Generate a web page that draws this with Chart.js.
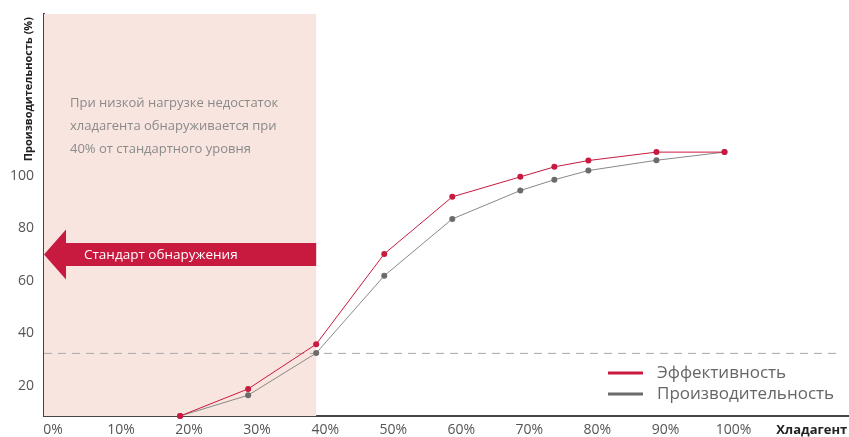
<!DOCTYPE html>
<html>
<head>
<meta charset="utf-8">
<script src="https://cdn.jsdelivr.net/npm/chart.js@4/dist/chart.umd.min.js"></script>
<style>
  html, body { margin: 0; padding: 0; background: #fff; }
  #wrap { width: 849px; height: 437px; }
</style>
</head>
<body>
<div id="wrap"><canvas id="chart"></canvas></div>
<script>
// данные
const refrigerant = [20, 30, 40, 50, 60, 70, 75, 80, 90, 100];           // Хладагент, %
const efficiency  = [8.6, 18.9, 35.9, 70.2, 91.9, 99.5, 103.3, 105.7, 108.9, 108.9];
const capacity    = [8.6, 16.5, 32.5, 61.9, 83.5, 94.3, 98.4, 101.9, 105.8, 108.9];
const xTicks = [0, 10, 20, 30, 40, 50, 60, 70, 80, 90, 100];
const xTitleAt = 111.5;
const yTicks = [20, 40, 60, 80, 100];
const detectionLevel = 32.4;   // пунктир
const lowLoadLimit = 40;       // розовая зона до 40%
const arrowLevel = 70;
const seriesNames = ['Эффективность', 'Производительность'];
const noteLines = [
  'При низкой нагрузке недостаток',
  'хладагента обнаруживается при',
  '40% от стандартного уровня'
];
const arrowText = 'Стандарт обнаружения';
const xTitle = 'Хладагент';
const yTitle = 'Производительность (%)';

const RED = '#c8193f';
const GREY = '#6b6b6b';
const FONT = '"Open Sans", "Noto Sans", sans-serif';

const toPoints = (ys) => refrigerant.map((x, i) => ({ x, y: ys[i] }));
const noPadding = (s) => { s.paddingLeft = 0; s.paddingRight = 0; s.paddingTop = 0; s.paddingBottom = 0; };

// розовая зона, стрелка и подпись
const backdrop = {
  id: 'backdrop',
  beforeDatasetsDraw(chart) {
    const { ctx, chartArea: a, scales: { x, y } } = chart;
    const x0 = x.getPixelForValue(0);
    const x1 = x.getPixelForValue(lowLoadLimit);
    ctx.save();
    ctx.fillStyle = '#f9e5e0';
    ctx.fillRect(x0, a.top, x1 - x0, a.bottom - a.top);

    // текст
    ctx.fillStyle = '#8a8a8a';
    ctx.font = '13px ' + FONT;
    ctx.textBaseline = 'middle';
    noteLines.forEach((t, i) => ctx.fillText(t, x0 + 26, 103 + i * 23));

    // стрелка
    const yc = y.getPixelForValue(arrowLevel);
    ctx.fillStyle = RED;
    ctx.beginPath();
    ctx.moveTo(x0, yc);
    ctx.lineTo(x0 + 22, yc - 25);
    ctx.lineTo(x0 + 22, yc - 11.5);
    ctx.lineTo(x1, yc - 11.5);
    ctx.lineTo(x1, yc + 11.5);
    ctx.lineTo(x0 + 22, yc + 11.5);
    ctx.lineTo(x0 + 22, yc + 25);
    ctx.closePath();
    ctx.fill();
    ctx.fillStyle = '#fff';
    ctx.font = '13.5px ' + FONT;
    ctx.fillText(arrowText, x0 + 40, yc + 1);
    ctx.restore();
  }
};

// заголовок оси Y и легенда
const overlay = {
  id: 'overlay',
  afterDraw(chart) {
    const { ctx, chartArea: a } = chart;
    ctx.save();
    ctx.fillStyle = '#222';
    ctx.font = 'bold 11px ' + FONT;
    ctx.textBaseline = 'middle';
    ctx.textAlign = 'right';
    ctx.translate(29, a.top + 3);
    ctx.rotate(-Math.PI / 2);
    ctx.fillText(yTitle, 0, 0);
    ctx.restore();

    ctx.save();
    const colors = [RED, GREY];
    ctx.font = '17px ' + FONT;
    ctx.textBaseline = 'middle';
    seriesNames.forEach((name, i) => {
      const yy = 373 + i * 21;
      ctx.strokeStyle = colors[i];
      ctx.lineWidth = 3;
      ctx.beginPath();
      ctx.moveTo(608, yy);
      ctx.lineTo(643, yy);
      ctx.stroke();
      ctx.fillStyle = '#666';
      ctx.fillText(name, 657, yy);
    });
    ctx.restore();
  }
};

new Chart(document.getElementById('chart'), {
  type: 'line',
  data: {
    datasets: [
      {
        label: seriesNames[0],
        data: toPoints(efficiency),
        borderColor: RED,
        backgroundColor: RED,
        borderWidth: 1,
        pointRadius: 3,
        pointBorderWidth: 0,
        pointBackgroundColor: RED,
        clip: false
      },
      {
        label: seriesNames[1],
        data: toPoints(capacity),
        borderColor: '#888',
        backgroundColor: GREY,
        borderWidth: 1,
        pointRadius: 3,
        pointBorderWidth: 0,
        pointBackgroundColor: GREY,
        clip: false
      },
      {
        label: 'level',
        data: [{ x: 0, y: detectionLevel }, { x: 116.5, y: detectionLevel }],
        borderColor: '#a8a8a8',
        borderWidth: 1,
        borderDash: [8, 6],
        pointRadius: 0,
        order: 5
      }
    ]
  },
  options: {
    responsive: true,
    maintainAspectRatio: false,
    animation: false,
    layout: { autoPadding: false, padding: { top: 14, right: 0, left: 0, bottom: 0 } },
    plugins: {
      legend: { display: false },
      tooltip: { enabled: false }
    },
    scales: {
      x: {
        type: 'linear',
        min: 0,
        max: 118.3,
        afterBuildTicks: (s) => { s.ticks = xTicks.concat([xTitleAt]).map(v => ({ value: v })); },
        afterFit: (s) => { s.height = 21; noPadding(s); },
        grid: { display: false, drawTicks: false },
        border: { display: true, color: '#444', width: 2 },
        ticks: {
          padding: 6,
          labelOffset: 9,
          maxRotation: 0,
          autoSkip: false,
          color: (c) => c.tick && c.tick.value === xTitleAt ? '#222' : '#555',
          font: (c) => c.tick && c.tick.value === xTitleAt
            ? { family: FONT, size: 13, weight: 'bold' }
            : { family: FONT, size: 14 },
          callback: (v) => v === xTitleAt ? xTitle : v + '%'
        }
      },
      y: {
        type: 'linear',
        min: 8.6,
        max: 161.4,
        afterBuildTicks: (s) => { s.ticks = yTicks.map(v => ({ value: v })); },
        afterFit: (s) => { s.width = 44; noPadding(s); },
        grid: { display: false, drawTicks: false },
        border: { display: true, color: '#444', width: 2 },
        ticks: {
          padding: 10,
          color: '#555',
          font: { family: FONT, size: 14 }
        }
      }
    }
  },
  plugins: [backdrop, overlay]
});
</script>
</body>
</html>
